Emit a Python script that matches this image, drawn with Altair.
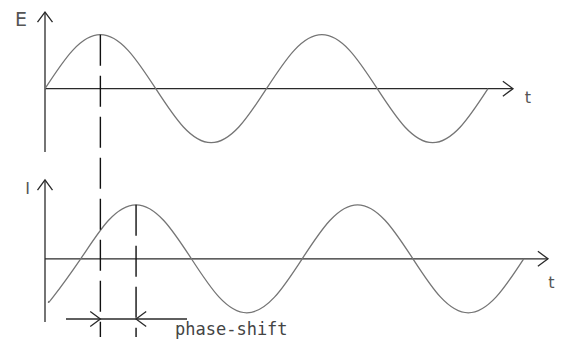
import altair as alt
import pandas as pd

# ---------------- data ----------------
# phase angle of the E wave in degrees (time axis), sampled every 45 degrees
E_PHASE = [0, 45, 90, 135, 180, 225, 270, 315, 360, 405, 450, 495, 540, 585, 630, 675, 720]
E_VALUE = [0, 0.71, 1, 0.71, 0, -0.71, -1, -0.71, 0, 0.71, 1, 0.71, 0, -0.71, -1, -0.71, 0]

PHASE_SHIFT = 58  # degrees by which I lags E
I_PHASE = [6.5, 13, 58, 103, 148, 193, 238, 283, 328, 373, 418, 463, 508, 553, 598, 643, 688, 733, 778]
I_VALUE = [-0.78, -0.71, 0, 0.71, 1, 0.71, 0, -0.71, -1, -0.71, 0, 0.71, 1, 0.71, 0, -0.71, -1, -0.71, 0]

LABELS = ["E", "I", "t", "t", "phase-shift"]

# ---------------- layout constants ----------------
I_BASE = -3.15          # baseline of the lower (I) diagram
E_PEAK_X = 90
I_PEAK_X = E_PEAK_X + PHASE_SHIFT
E_AXIS_END = 760.6
I_AXIS_END = 817.5
Y_AXIS_LOW, Y_AXIS_HIGH = -1.17, 1.42
I_Y_LOW, I_Y_HIGH = -1.17, 1.46
SHIFT_Y = I_BASE - 1.115
SHIFT_X0, SHIFT_X1 = 34.1, 230.8
DASH_BOTTOM = I_BASE - 1.448

W, H = 547, 331
k = 221.5 / 360
X_DOM = [-37 / k, (W - 37) / k]
Y_DOM = [(80.7 - H) / 54, 80.7 / 54]

xs = alt.Scale(domain=X_DOM, range=[0, W], nice=False, zero=False)
ys = alt.Scale(domain=Y_DOM, range=[H, 0], nice=False, zero=False)
X = lambda f: alt.X(f, type="quantitative", scale=xs, axis=None)
Y = lambda f: alt.Y(f, type="quantitative", scale=ys, axis=None)

wave_df = pd.concat([
    pd.DataFrame({"x": E_PHASE, "y": E_VALUE, "s": "E"}),
    pd.DataFrame({"x": I_PHASE, "y": [v + I_BASE for v in I_VALUE], "s": "I"}),
])

waves = alt.Chart(wave_df).mark_line(
    interpolate="natural", color="#757575", strokeWidth=1.3
).encode(x=X("x"), y=Y("y"), detail="s:N")

axes_df = pd.DataFrame({
    "x": [0, 0, 0, 0, SHIFT_X0],
    "x2": [0, E_AXIS_END, 0, I_AXIS_END, SHIFT_X1],
    "y": [Y_AXIS_LOW, 0, I_BASE + I_Y_LOW, I_BASE, SHIFT_Y],
    "y2": [Y_AXIS_HIGH, 0, I_BASE + I_Y_HIGH, I_BASE, SHIFT_Y],
})
axes = alt.Chart(axes_df).mark_rule(color="#2a2a2a", strokeWidth=1.3).encode(
    x=X("x"), x2="x2:Q", y=Y("y"), y2="y2:Q"
)

dash_df = pd.DataFrame({
    "x": [E_PEAK_X, I_PEAK_X],
    "y": [1, I_BASE + 1],
    "y2": [DASH_BOTTOM, DASH_BOTTOM],
})
dashes = alt.Chart(dash_df).mark_rule(
    color="#111111", strokeWidth=1.4, strokeDash=[31, 10]
).encode(x=X("x"), y=Y("y"), y2="y2:Q")

CHEVRON = "M-1.35,-1L0,0L-1.35,1"
arrow_df = pd.DataFrame({
    "x": [0, E_AXIS_END, 0, I_AXIS_END, E_PEAK_X, I_PEAK_X],
    "y": [Y_AXIS_HIGH, 0, I_BASE + I_Y_HIGH, I_BASE, SHIFT_Y, SHIFT_Y],
    "a": [270, 0, 270, 0, 0, 180],
})
arrows = alt.Chart(arrow_df).mark_point(
    shape=CHEVRON, filled=False, size=225, color="#2a2a2a", strokeWidth=1.3, opacity=1
).encode(x=X("x"), y=Y("y"), angle=alt.Angle("a:Q", scale=None))

lab_df = pd.DataFrame({
    "x": [-39.0, -28.1, 785.0, 823.0],
    "y": [1.272, I_BASE + 1.296, -0.163, I_BASE - 0.439],
    "t": LABELS[:4],
    "sz": [19, 16, 16, 16],
})
labels = alt.Chart(lab_df).mark_text(
    font="DejaVu Sans", color="#555555", align="center", baseline="middle"
).encode(x=X("x"), y=Y("y"), text="t:N", size=alt.Size("sz:Q", scale=None))

ps_df = pd.DataFrame({"x": [211.3], "y": [I_BASE - 1.411], "t": [LABELS[4]]})
ps_text = alt.Chart(ps_df).mark_text(
    font="DejaVu Sans Mono", fontSize=17, color="#444444", align="left", baseline="alphabetic"
).encode(x=X("x"), y=Y("y"), text="t:N")

chart = alt.layer(axes, waves, dashes, arrows, labels, ps_text).properties(
    width=W, height=H, autosize=alt.AutoSizeParams(type="none"), padding=0,
    background="white"
).configure_view(strokeWidth=0)

chart.save("out.html", embed_options={"renderer": "svg", "actions": False})
